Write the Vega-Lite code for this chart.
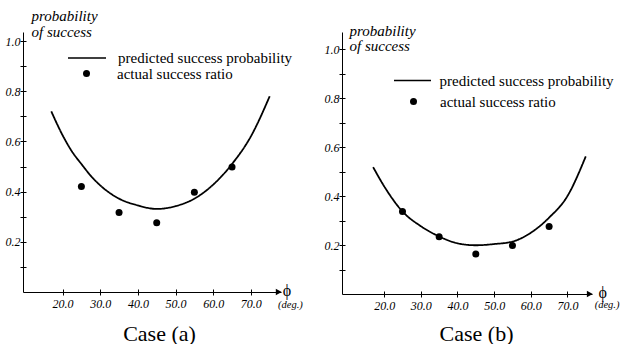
{
  "$schema": "https://vega.github.io/schema/vega-lite/v6.json",
  "background": "white",
  "padding": {"left": 5, "top": 8, "right": 5, "bottom": 5},
  "bounds": "flush",
  "spacing": 61,
  "datasets": {
    "curveA": [
      {"phi": 17, "p": 0.72}, {"phi": 20, "p": 0.625}, {"phi": 22.5, "p": 0.56}, {"phi": 25, "p": 0.51},
      {"phi": 27.5, "p": 0.463}, {"phi": 30, "p": 0.425}, {"phi": 35, "p": 0.372}, {"phi": 40, "p": 0.345},
      {"phi": 45, "p": 0.331}, {"phi": 50, "p": 0.342}, {"phi": 55, "p": 0.372}, {"phi": 60, "p": 0.428},
      {"phi": 65, "p": 0.51}, {"phi": 70, "p": 0.62}, {"phi": 75, "p": 0.78}
    ],
    "ptsA": [
      {"phi": 25, "p": 0.42}, {"phi": 35, "p": 0.317}, {"phi": 45, "p": 0.276}, {"phi": 55, "p": 0.397}, {"phi": 65, "p": 0.498}
    ],
    "curveB": [
      {"phi": 17, "p": 0.518}, {"phi": 20, "p": 0.44}, {"phi": 25, "p": 0.337}, {"phi": 30, "p": 0.277},
      {"phi": 35, "p": 0.235}, {"phi": 40, "p": 0.207}, {"phi": 45, "p": 0.199}, {"phi": 50, "p": 0.204},
      {"phi": 55, "p": 0.214}, {"phi": 60, "p": 0.25}, {"phi": 65, "p": 0.312}, {"phi": 70, "p": 0.4}, {"phi": 75, "p": 0.562}
    ],
    "ptsB": [
      {"phi": 25, "p": 0.337}, {"phi": 35, "p": 0.234}, {"phi": 45, "p": 0.163}, {"phi": 55, "p": 0.198}, {"phi": 65, "p": 0.276}
    ],
    "one": [{}]
  },
  "config": {
    "view": {"stroke": null},
    "axis": {
      "grid": false, "domainColor": "black", "domainWidth": 1, "tickColor": "black", "tickSize": 3, "tickWidth": 1,
      "labelFont": "Liberation Serif", "labelFontStyle": "italic", "labelFontSize": 12, "labelColor": "black",
      "titleColor": "black"
    },
    "legend": {"labelFont": "Liberation Serif", "labelFontSize": 15, "labelColor": "black", "labelLimit": 400, "padding": 0, "titlePadding": 0}
  },
  "resolve": {
    "scale": {"strokeDash": "independent", "shape": "independent", "x": "independent", "y": "independent"},
    "legend": {"strokeDash": "independent", "shape": "independent"}
  },
  "hconcat": [
    {
      "width": 258, "height": 260,
      "resolve": {"axis": {"x": "independent", "y": "independent"}},
      "layer": [
        {
          "data": {"name": "curveA"},
          "mark": {"type": "line", "color": "black", "strokeWidth": 1.8, "interpolate": "monotone"},
          "encoding": {
            "x": {"field": "phi", "type": "quantitative", "scale": {"domain": [9.5, 78], "nice": false, "zero": false},
              "axis": {"orient": "bottom", "values": [20, 30, 40, 50, 60, 70], "format": ".1f", "labelPadding": 3,
                "title": "Case (a)", "titleFont": "Liberation Serif", "titleFontSize": 22, "titleFontWeight": "normal",
                "titleX": 136, "titleY": 48, "titleAlign": "center", "titleBaseline": "alphabetic"}},
            "y": {"field": "p", "type": "quantitative", "scale": {"domain": [0, 1.036], "nice": false},
              "axis": {"orient": "left", "values": [0.2, 0.4, 0.6, 0.8, 1.0], "format": ".1f", "labelOverlap": false,
                "labelPadding": 0,
                "title": ["probability", "of success"], "titleFont": "Liberation Serif", "titleFontStyle": "italic",
                "titleFontSize": 15, "titleFontWeight": "normal", "titleAngle": 0, "titleAlign": "left",
                "titleBaseline": "alphabetic", "titleX": 8, "titleY": -12, "titleLineHeight": 16}},
            "strokeDash": {"datum": "predicted success probability", "type": "nominal",
              "scale": {"range": [[1, 0]]},
              "legend": {"orient": "none", "legendX": 44, "legendY": 6, "title": null, "symbolType": "stroke",
                "symbolSize": 1444, "symbolStrokeWidth": 1.6, "symbolStrokeColor": "black", "labelOffset": 11}}
          }
        },
        {
          "data": {"name": "ptsA"},
          "mark": {"type": "point", "filled": true, "color": "black", "size": 49, "opacity": 1},
          "encoding": {
            "x": {"field": "phi", "type": "quantitative", "scale": {"domain": [9.5, 78], "nice": false, "zero": false},
              "axis": {"orient": "bottom", "values": [20, 30, 40, 50, 60, 70], "labels": false, "domain": false, "title": null, "tickSize": -3}},
            "y": {"field": "p", "type": "quantitative", "scale": {"domain": [0, 1.036], "nice": false},
              "axis": {"orient": "left", "values": [0.1, 0.3, 0.5, 0.7, 0.9], "labels": false, "domain": false, "title": null, "tickSize": 3}},
            "shape": {"datum": "actual success ratio", "type": "nominal", "scale": {"range": ["circle"]},
              "legend": {"orient": "none", "legendX": 56, "legendY": 34, "title": null, "symbolSize": 49,
                "symbolFillColor": "black", "symbolStrokeColor": "black", "symbolStrokeWidth": 0, "symbolOpacity": 1, "labelOffset": 23}}
          }
        },
        {
          "data": {"name": "one"},
          "mark": {"type": "point", "shape": "triangle-right", "filled": true, "color": "black", "size": 45, "opacity": 1},
          "encoding": {
            "x": {"datum": 77.4, "type": "quantitative", "scale": {"domain": [9.5, 78], "nice": false, "zero": false}, "axis": null},
            "y": {"datum": 0, "type": "quantitative", "scale": {"domain": [0, 1.036], "nice": false},
              "axis": {"orient": "left", "values": [0.1, 0.2, 0.3, 0.4, 0.5, 0.6, 0.7, 0.8, 0.9, 1.0], "labels": false, "domain": false, "title": null, "tickSize": -3}}
          }
        },
        {
          "data": {"name": "one"},
          "mark": {"type": "text", "text": "ϕ", "font": "Liberation Serif", "fontSize": 16, "align": "center", "baseline": "middle", "color": "black"},
          "encoding": {
            "x": {"datum": 79.6, "type": "quantitative", "scale": {"domain": [9.5, 78], "nice": false, "zero": false}, "axis": null},
            "y": {"datum": 0.005, "type": "quantitative", "scale": {"domain": [0, 1.036], "nice": false}, "axis": null}
          }
        },
        {
          "data": {"name": "one"},
          "mark": {"type": "text", "text": "(deg.)", "font": "Liberation Serif", "fontStyle": "italic", "fontSize": 10.5, "align": "center", "baseline": "middle", "color": "black"},
          "encoding": {
            "x": {"datum": 80.5, "type": "quantitative", "scale": {"domain": [9.5, 78], "nice": false, "zero": false}, "axis": null},
            "y": {"datum": -0.052, "type": "quantitative", "scale": {"domain": [0, 1.036], "nice": false}, "axis": null}
          }
        }
      ]
    },
    {
      "width": 250, "height": 262,
      "resolve": {"axis": {"x": "independent", "y": "independent"}},
      "layer": [
        {
          "data": {"name": "curveB"},
          "mark": {"type": "line", "color": "black", "strokeWidth": 1.8, "interpolate": "monotone"},
          "encoding": {
            "x": {"field": "phi", "type": "quantitative", "scale": {"domain": [8.5, 76.7], "nice": false, "zero": false},
              "axis": {"orient": "bottom", "values": [20, 30, 40, 50, 60, 70], "format": ".1f", "labelPadding": 3,
                "title": "Case (b)", "titleFont": "Liberation Serif", "titleFontSize": 22, "titleFontWeight": "normal",
                "titleX": 134, "titleY": 46, "titleAlign": "center", "titleBaseline": "alphabetic"}},
            "y": {"field": "p", "type": "quantitative", "scale": {"domain": [0, 1.07], "nice": false},
              "axis": {"orient": "left", "values": [0.2, 0.4, 0.6, 0.8, 1.0], "format": ".1f", "labelOverlap": false,
                "labelPadding": 0,
                "title": ["probability", "of success"], "titleFont": "Liberation Serif", "titleFontStyle": "italic",
                "titleFontSize": 15, "titleFontWeight": "normal", "titleAngle": 0, "titleAlign": "left",
                "titleBaseline": "alphabetic", "titleX": 7, "titleY": 3, "titleLineHeight": 15}},
            "strokeDash": {"datum": "predicted success probability", "type": "nominal",
              "scale": {"range": [[1, 0]]},
              "legend": {"orient": "none", "legendX": 51, "legendY": 29, "title": null, "symbolType": "stroke",
                "symbolSize": 1369, "symbolStrokeWidth": 1.6, "symbolStrokeColor": "black", "labelOffset": 7.5}}
          }
        },
        {
          "data": {"name": "ptsB"},
          "mark": {"type": "point", "filled": true, "color": "black", "size": 49, "opacity": 1},
          "encoding": {
            "x": {"field": "phi", "type": "quantitative", "scale": {"domain": [8.5, 76.7], "nice": false, "zero": false},
              "axis": {"orient": "bottom", "values": [20, 30, 40, 50, 60, 70], "labels": false, "domain": false, "title": null, "tickSize": -3}},
            "y": {"field": "p", "type": "quantitative", "scale": {"domain": [0, 1.07], "nice": false},
              "axis": {"orient": "left", "values": [0.1, 0.3, 0.5, 0.7, 0.9], "labels": false, "domain": false, "title": null, "tickSize": 3}},
            "shape": {"datum": "actual success ratio", "type": "nominal", "scale": {"range": ["circle"]},
              "legend": {"orient": "none", "legendX": 64, "legendY": 62, "title": null, "symbolSize": 49,
                "symbolFillColor": "black", "symbolStrokeColor": "black", "symbolStrokeWidth": 0, "symbolOpacity": 1, "labelOffset": 19}}
          }
        },
        {
          "data": {"name": "one"},
          "mark": {"type": "point", "shape": "triangle-right", "filled": true, "color": "black", "size": 45, "opacity": 1},
          "encoding": {
            "x": {"datum": 76.1, "type": "quantitative", "scale": {"domain": [8.5, 76.7], "nice": false, "zero": false}, "axis": null},
            "y": {"datum": 0, "type": "quantitative", "scale": {"domain": [0, 1.07], "nice": false},
              "axis": {"orient": "left", "values": [0.1, 0.2, 0.3, 0.4, 0.5, 0.6, 0.7, 0.8, 0.9, 1.0], "labels": false, "domain": false, "title": null, "tickSize": -3}}
          }
        },
        {
          "data": {"name": "one"},
          "mark": {"type": "text", "text": "ϕ", "font": "Liberation Serif", "fontSize": 16, "align": "center", "baseline": "middle", "color": "black"},
          "encoding": {
            "x": {"datum": 79.6, "type": "quantitative", "scale": {"domain": [8.5, 76.7], "nice": false, "zero": false}, "axis": null},
            "y": {"datum": 0.005, "type": "quantitative", "scale": {"domain": [0, 1.07], "nice": false}, "axis": null}
          }
        },
        {
          "data": {"name": "one"},
          "mark": {"type": "text", "text": "(deg.)", "font": "Liberation Serif", "fontStyle": "italic", "fontSize": 10.5, "align": "center", "baseline": "middle", "color": "black"},
          "encoding": {
            "x": {"datum": 80.8, "type": "quantitative", "scale": {"domain": [8.5, 76.7], "nice": false, "zero": false}, "axis": null},
            "y": {"datum": -0.046, "type": "quantitative", "scale": {"domain": [0, 1.07], "nice": false}, "axis": null}
          }
        }
      ]
    }
  ]
}
